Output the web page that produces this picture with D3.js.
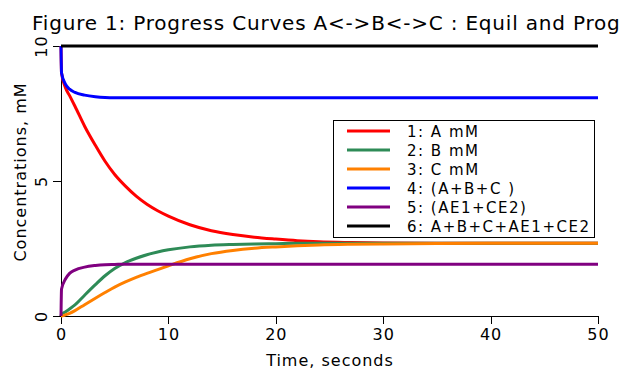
<!DOCTYPE html>
<html>
<head>
<meta charset="utf-8">
<script src="https://cdn.jsdelivr.net/npm/d3@7"></script>
<style>
  body { margin: 0; background: #fff; }
  svg { display: block; font-family: "DejaVu Sans", sans-serif; }
</style>
</head>
<body>
<div id="chart"></div>
<script>
// time points (seconds) and concentrations (mM)
const timeSec  = [0, 0.05, 0.4, 0.8, 1.3, 2.2, 3.2, 4.1, 5, 6, 7, 8, 9, 10, 12, 14, 16, 18, 20, 22, 24, 27, 30, 35, 40, 50];
const concA    = [10, 9.0, 8.47, 8.16, 7.77, 7.03, 6.32, 5.73, 5.24, 4.81, 4.44, 4.14, 3.90, 3.70, 3.38, 3.16, 3.02, 2.92, 2.85, 2.79, 2.75, 2.72, 2.70, 2.69, 2.69, 2.69];
const concB    = [0, 0.06, 0.15, 0.26, 0.41, 0.77, 1.16, 1.49, 1.76, 1.98, 2.14, 2.27, 2.37, 2.45, 2.56, 2.62, 2.65, 2.67, 2.68, 2.69, 2.69, 2.69, 2.69, 2.69, 2.69, 2.69];
const concC    = [0, 0, 0.04, 0.10, 0.20, 0.42, 0.66, 0.87, 1.07, 1.26, 1.43, 1.58, 1.72, 1.86, 2.12, 2.31, 2.43, 2.51, 2.56, 2.60, 2.63, 2.655, 2.67, 2.685, 2.69, 2.69];
const sumABC   = [10, 9.0, 8.60, 8.40, 8.28, 8.18, 8.12, 8.09, 8.08, 8.08, 8.08, 8.08, 8.08, 8.08, 8.08, 8.08, 8.08, 8.08, 8.08, 8.08, 8.08, 8.08, 8.08, 8.08, 8.08, 8.08];
const complexE = [0, 1.0, 1.36, 1.58, 1.70, 1.81, 1.87, 1.90, 1.91, 1.92, 1.92, 1.92, 1.92, 1.92, 1.92, 1.92, 1.92, 1.92, 1.92, 1.92, 1.92, 1.92, 1.92, 1.92, 1.92, 1.92];
const totalAll = [10, 10, 10, 10, 10, 10, 10, 10, 10, 10, 10, 10, 10, 10, 10, 10, 10, 10, 10, 10, 10, 10, 10, 10, 10, 10];

const seriesNames  = ["1: A mM", "2: B mM", "3: C mM", "4: (A+B+C )", "5: (AE1+CE2)", "6: A+B+C+AE1+CE2"];
const seriesValues = [concA, concB, concC, sumABC, complexE, totalAll];
const seriesColors = ["#ff0000", "#2e8b57", "#ff8000", "#0000ff", "#800080", "#000000"];

const xTicks = [0, 10, 20, 30, 40, 50];
const yTicks = [0, 5, 10];

const width = 624, height = 373;
const svg = d3.select("#chart").append("svg")
    .attr("width", width)
    .attr("height", height);

const x = d3.scaleLinear().domain([0, 50]).range([61, 598]);
const y = d3.scaleLinear().domain([0, 10]).range([316, 46]);

// title (the original is cut at the right edge after "Prog")
svg.append("text")
    .attr("x", 32)
    .attr("y", 30)
    .attr("font-size", 20)
    .attr("letter-spacing", 0.8)
    .text("Figure 1: Progress Curves A<->B<->C : Equil and Prog");

// x axis
const xAxis = svg.append("g")
    .attr("transform", `translate(0,${y(0)})`)
    .call(d3.axisBottom(x).tickValues(xTicks).tickSize(8).tickSizeOuter(0).tickPadding(5));
xAxis.selectAll("text")
    .attr("font-size", 16)
    .attr("letter-spacing", 1)
    .attr("font-family", "DejaVu Sans, sans-serif")
    .attr("fill", "#000");

// y axis, labels turned sideways
const yAxis = svg.append("g")
    .attr("transform", `translate(${x(0)},0)`)
    .call(d3.axisLeft(y).tickValues(yTicks).tickSize(8).tickSizeOuter(0));
yAxis.selectAll("text")
    .attr("font-size", 16)
    .attr("letter-spacing", 1)
    .attr("font-family", "DejaVu Sans, sans-serif")
    .attr("fill", "#000")
    .attr("text-anchor", "middle")
    .attr("x", null).attr("dy", null)
    .attr("transform", "translate(-14,0) rotate(-90)")
    .attr("y", 0);

svg.selectAll(".domain, .tick line").attr("stroke", "#000").attr("shape-rendering", "crispEdges");

// axis titles
svg.append("text")
    .attr("x", 330)
    .attr("y", 366)
    .attr("text-anchor", "middle")
    .attr("font-size", 16)
    .attr("letter-spacing", 1)
    .text("Time, seconds");

svg.append("text")
    .attr("transform", "translate(26,172) rotate(-90)")
    .attr("text-anchor", "middle")
    .attr("font-size", 16)
    .attr("letter-spacing", 1)
    .text("Concentrations, mM");

// curves
const line = d3.line()
    .x((d, i) => x(timeSec[i]))
    .y(d => y(d))
    .curve(d3.curveMonotoneX);

svg.append("g").selectAll("path")
    .data(seriesValues)
    .join("path")
    .attr("d", line)
    .attr("fill", "none")
    .attr("stroke", (d, i) => seriesColors[i])
    .attr("stroke-width", 3);

// legend
const legend = svg.append("g");
legend.append("rect")
    .attr("x", 333.5).attr("y", 120.5)
    .attr("width", 261).attr("height", 117)
    .attr("fill", "#fff")
    .attr("stroke", "#000");

const rows = legend.selectAll(".row")
    .data(seriesNames)
    .join("g")
    .attr("class", "row")
    .attr("transform", (d, i) => `translate(0,${131 + i * 19})`);

rows.append("line")
    .attr("x1", 347).attr("x2", 390)
    .attr("stroke", (d, i) => seriesColors[i])
    .attr("stroke-width", 3);

rows.append("text")
    .attr("x", 407)
    .attr("y", 5.5)
    .attr("font-size", 15)
    .attr("letter-spacing", 1.5)
    .text(d => d);
</script>
</body>
</html>
